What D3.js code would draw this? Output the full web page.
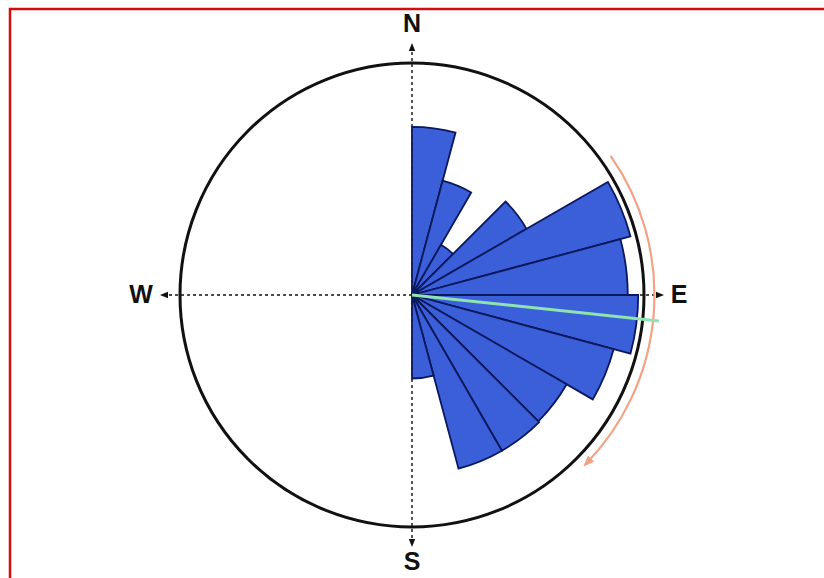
<!DOCTYPE html>
<html>
<head>
<meta charset="utf-8">
<script src="https://cdn.jsdelivr.net/npm/d3@7"></script>
<style>
  html, body { margin: 0; padding: 0; background: #fff; }
  svg { display: block; }
</style>
</head>
<body>
<svg id="chart" width="824" height="578"></svg>
<script>
// Direction bins (degrees clockwise from north) and their counts
const binStarts = [0, 15, 30, 45, 60, 75, 90, 105, 120, 135, 150, 165];
const binWidth = 15;
const counts = [72.5, 51, 25, 57, 97.5, 93, 97.5, 90, 77, 77.5, 77.5, 36];

// Outer reference ring, mean direction and spread arc (degrees / count units)
const ringValue = 100;
const meanDirection = 96;
const meanLength = 107;
const spreadArc = [55, 134.5];
const spreadRadius = 104.5;

// Compass labels
const compass = [
  { label: "N", angle: 0 },
  { label: "E", angle: 90 },
  { label: "S", angle: 180 },
  { label: "W", angle: 270 }
];

const svg = d3.select("#chart");
const cx = 412, cy = 295;
const rad = d => d * Math.PI / 180;
const r = d3.scaleLinear().domain([0, ringValue]).range([0, 232]);

// Frame
svg.append("path")
  .attr("d", "M10,578 L10,9 L824,9")
  .attr("fill", "none")
  .attr("stroke", "#d10d0d")
  .attr("stroke-width", 2.5);

const defs = svg.append("defs");
defs.append("marker")
  .attr("id", "tri")
  .attr("viewBox", "0 0 10 10")
  .attr("refX", 10).attr("refY", 5)
  .attr("markerWidth", 6).attr("markerHeight", 6)
  .attr("orient", "auto")
  .append("path").attr("d", "M0,1 L10,5 L0,9 Z").attr("fill", "#111");
defs.append("marker")
  .attr("id", "triOrange")
  .attr("viewBox", "0 0 10 10")
  .attr("refX", 8).attr("refY", 5)
  .attr("markerWidth", 5).attr("markerHeight", 5)
  .attr("orient", "auto")
  .append("path").attr("d", "M0,1 L10,5 L0,9 Z").attr("fill", "#f2a285");

const g = svg.append("g").attr("transform", `translate(${cx},${cy})`);

// Dashed compass axes with arrow tips
const axisLen = 252;
compass.forEach(c => {
  g.append("line")
    .attr("x1", 0).attr("y1", 0)
    .attr("x2", axisLen * Math.sin(rad(c.angle)))
    .attr("y2", -axisLen * Math.cos(rad(c.angle)))
    .attr("stroke", "#111")
    .attr("stroke-width", 1.4)
    .attr("stroke-dasharray", "3,3")
    .attr("marker-end", "url(#tri)");
});

// Outer ring
g.append("circle")
  .attr("r", r(ringValue))
  .attr("fill", "none")
  .attr("stroke", "#111")
  .attr("stroke-width", 3);

// Rose petals
const arc = d3.arc()
  .innerRadius(0)
  .outerRadius(d => r(d.count))
  .startAngle(d => rad(d.start))
  .endAngle(d => rad(d.start + binWidth));

g.selectAll("path.petal")
  .data(binStarts.map((s, i) => ({ start: s, count: counts[i] })))
  .join("path")
  .attr("class", "petal")
  .attr("d", arc)
  .attr("fill", "#3b5ed9")
  .attr("stroke", "#0a185e")
  .attr("stroke-width", 1.8)
  .attr("stroke-linejoin", "miter");

// Compass letters
const labelPos = {
  N: [412, 32], E: [679, 303], S: [412, 570], W: [141, 303]
};
compass.forEach(c => {
  svg.append("text")
    .attr("x", labelPos[c.label][0])
    .attr("y", labelPos[c.label][1])
    .attr("text-anchor", "middle")
    .attr("font-family", "Liberation Sans, Arial, sans-serif")
    .attr("font-weight", "bold")
    .attr("font-size", 25)
    .attr("fill", "#111")
    .text(c.label);
});

// Spread arc
const a0 = rad(spreadArc[0]), a1 = rad(spreadArc[1]), sr = r(spreadRadius);
g.append("path")
  .attr("d", `M${sr * Math.sin(a0)},${-sr * Math.cos(a0)} A${sr},${sr} 0 0 1 ${sr * Math.sin(a1)},${-sr * Math.cos(a1)}`)
  .attr("fill", "none")
  .attr("stroke", "#f2a285")
  .attr("stroke-width", 2.2)
  .attr("marker-end", "url(#triOrange)");

// Mean direction
g.append("line")
  .attr("x1", 0).attr("y1", 0)
  .attr("x2", r(meanLength) * Math.sin(rad(meanDirection)))
  .attr("y2", -r(meanLength) * Math.cos(rad(meanDirection)))
  .attr("stroke", "#8fe3b2")
  .attr("stroke-width", 3);
</script>
</body>
</html>
